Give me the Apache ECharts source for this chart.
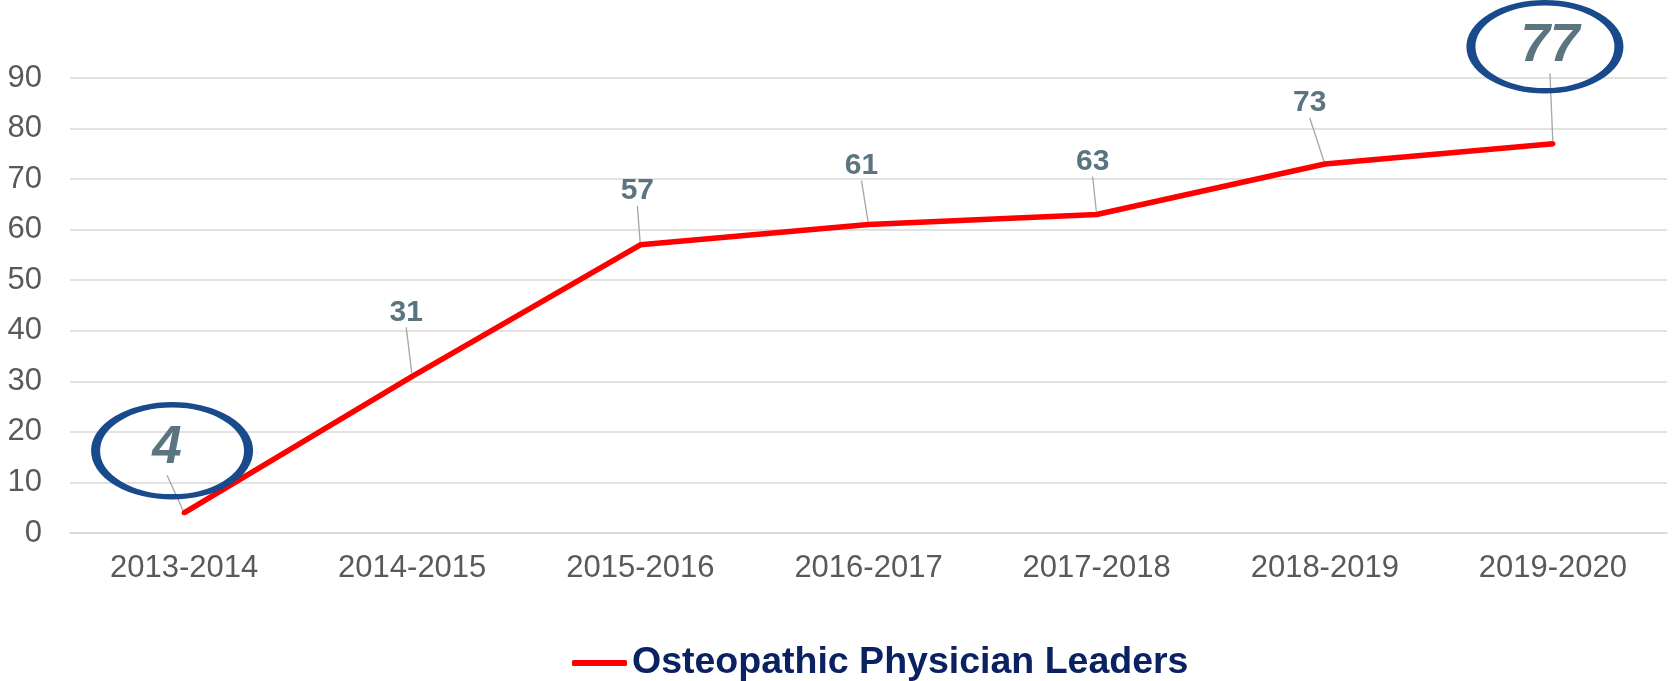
<!DOCTYPE html>
<html>
<head>
<meta charset="utf-8">
<title>Osteopathic Physician Leaders</title>
<script src="https://cdn.jsdelivr.net/npm/echarts@6/dist/echarts.min.js"></script>
<style>
    html, body { margin: 0; padding: 0; background: #fff; }
    #main { width: 1672px; height: 681px; }
</style>
</head>
<body>
<div id="main"></div>
<script>
var years = ['2013-2014', '2014-2015', '2015-2016', '2016-2017', '2017-2018', '2018-2019', '2019-2020'];
var leaders = [4, 31, 57, 61, 63, 73, 77];
var yTicks = [0, 10, 20, 30, 40, 50, 60, 70, 80, 90];
var seriesName = 'Osteopathic Physician Leaders';

// where each data label sits, relative to its point (px)
var labelShift = [[-17, -64], [-6, -64], [-3, -54], [-7, -59], [-4, -53], [-15, -61], [-3, -97]];
// first and last values get the big italic label and a ring
var ringed = [0, years.length - 1];

(function() {
    var chartDom = document.getElementById('main');
    var myChart = echarts.init(chartDom);
    var option;

    var ellipse = 'path://M0,50 A50,50 0 1,1 100,50 A50,50 0 1,1 0,50 Z';

    var points = leaders.map(function(v, i) {
        var item = { value: v };
        if (ringed.indexOf(i) >= 0) {
            item.label = {
                fontSize: 53,
                fontStyle: 'italic'
            };
        }
        return item;
    });

    option = {
        animation: false,
        textStyle: {
            fontFamily: "'Liberation Sans', Arial, sans-serif"
        },
        legend: {
            data: [seriesName],
            left: 567,
            top: 639,
            icon: 'roundRect',
            itemWidth: 55,
            itemHeight: 6,
            textStyle: {
                fontFamily: "'Liberation Sans', Arial, sans-serif",
                fontWeight: 'bold',
                fontSize: 37.5,
                color: '#0a2162'
            }
        },
        grid: {
            left: 70,
            right: 5,
            top: 78,
            bottom: 148,
            containLabel: false
        },
        xAxis: {
            type: 'category',
            boundaryGap: true,
            data: years,
            axisLine: { show: true, lineStyle: { color: '#d9d9d9', width: 1.5 } },
            axisTick: { show: false },
            axisLabel: {
                color: '#595959',
                fontSize: 31,
                margin: 20
            }
        },
        yAxis: {
            type: 'value',
            min: yTicks[0],
            max: yTicks[yTicks.length - 1],
            interval: yTicks[1] - yTicks[0],
            axisLine: { show: false },
            axisTick: { show: false },
            axisLabel: {
                color: '#595959',
                fontSize: 31,
                margin: 28
            },
            splitLine: {
                lineStyle: { color: '#d9d9d9', width: 1.5 }
            }
        },
        series: [{
            name: seriesName,
            type: 'line',
            data: points,
            symbol: 'circle',
            symbolSize: 5,
            showSymbol: true,
            itemStyle: { color: '#ff0000' },
            lineStyle: { color: '#ff0000', width: 5.5 },
            label: {
                show: true,
                position: 'inside',
                fontSize: 30,
                fontWeight: 'bold',
                color: '#5b7580'
            },
            labelLayout: function(params) {
                var s = labelShift[params.dataIndex];
                return { dx: s[0], dy: s[1] };
            },
            labelLine: {
                show: true,
                lineStyle: { color: '#a6a6a6', width: 1.3 }
            },
            markPoint: {
                silent: true,
                symbol: ellipse,
                label: { show: false },
                itemStyle: {
                    color: 'rgba(0,0,0,0)',
                    borderColor: '#194b8c',
                    borderWidth: 7
                },
                data: [
                    { coord: [years[ringed[0]], leaders[ringed[0]]], symbolSize: [153, 92], symbolOffset: [-12, -62] },
                    { coord: [years[ringed[1]], leaders[ringed[1]]], symbolSize: [148, 88], symbolOffset: [-8, -97] }
                ]
            }
        }]
    };

    myChart.setOption(option);
})();
</script>
</body>
</html>
